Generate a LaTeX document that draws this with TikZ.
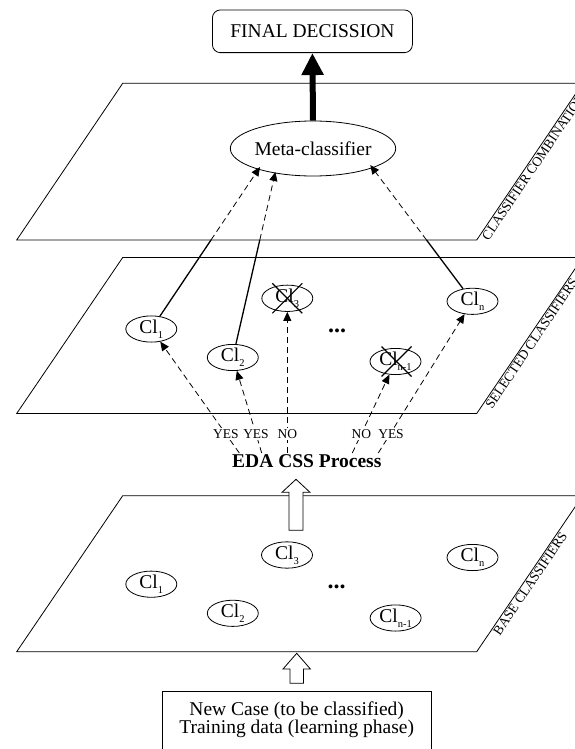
\documentclass[tikz,border=0pt]{standalone}
\usepackage{fontspec}
\setmainfont{Liberation Serif}
\usetikzlibrary{shapes.geometric,arrows.meta,calc}
\newcommand{\clsub}[1]{Cl\raisebox{-5pt}{\fontsize{10.5}{11}\selectfont #1}}
\begin{document}
\begin{tikzpicture}[x=1pt,y=-1pt,
  plane/.style={draw, line width=0.8pt},
  clnode/.style={draw, ellipse, fill=white, line width=0.8pt, minimum width=51pt, minimum height=26pt, inner sep=0pt, font=\fontsize{19.5}{22}\selectfont},
  dasharrow/.style={line width=0.8pt, dash pattern=on 6pt off 4pt, -{Triangle[length=9pt,width=8pt]}},
  solidline/.style={line width=1.3pt},
  crossline/.style={line width=1.2pt},
  yn/.style={fill=white, inner sep=1.5pt, font=\fontsize{13.5}{14}\selectfont},
  side/.style={rotate=56, anchor=north west, inner sep=1.5pt, font=\fontsize{13.5}{14}\selectfont},
  hollow/.style={draw, fill=white, line width=0.8pt},
  main/.style={font=\fontsize{19.5}{22}\selectfont},
  dotsnode/.style={font=\fontsize{24}{24}\selectfont\bfseries}
]
\useasboundingbox (0,0) rectangle (575,749);
\clip (0,0) rectangle (575,749);

% plane corners
\coordinate (bl1) at (16.7,240);   \coordinate (br1) at (476.7,240);
\coordinate (tl1) at (122.7,83.3); \coordinate (tr1) at (582.7,83.3);
\coordinate (bl2) at (16.7,413.5); \coordinate (br2) at (476.7,413.5);
\coordinate (tl2) at (122.7,257.5);\coordinate (tr2) at (582.7,257.5);
\coordinate (bl3) at (16.7,651.7); \coordinate (br3) at (476.7,651.7);
\coordinate (tl3) at (122.7,495.7);\coordinate (tr3) at (582.7,495.7);

\draw[plane] (bl1) -- (br1) -- (tr1) -- (tl1) -- cycle;
\draw[plane] (bl2) -- (br2) -- (tr2) -- (tl2) -- cycle;
\draw[plane] (bl3) -- (br3) -- (tr3) -- (tl3) -- cycle;

\node[side] (lab1) at ($(br1)!4pt!(tr1)$) {CLASSIFIER COMBINATION};
\node[side] (lab2) at ($(br2)!10pt!(tr2)$) {SELECTED CLASSIFIERS};
\node[side] (lab3) at ($(br3)!24pt!(tr3)$) {BASE CLASSIFIERS};

% top
\node[draw, rounded corners=8pt, minimum width=200pt, minimum height=42.7pt, line width=0.8pt, main] (final) at (312.4,31.3) {FINAL DECISSION};
\node[draw, ellipse, fill=white, minimum width=144pt, minimum height=55pt, inner sep=0pt, line width=0.8pt, main] (meta) at (313,148.5) {Meta-classifier};
\draw[line width=6pt, -{Triangle[length=22pt,width=21pt]}] (meta.north) -- (final.south);

% selected classifiers
\node[clnode] (sc1) at (151.3,329) {\clsub{1}};
\node[clnode] (sc2) at (232.8,357.5) {\clsub{2}};
\node[clnode] (sc3) at (287.3,298.3) {\clsub{3}};
\node[clnode] (sc4) at (395.5,361.5) {\clsub{n-1}};
\node[clnode] (sc5) at (472.5,301.3) {\clsub{n}};
\node[dotsnode] (sdots) at (337,331) {...};
\draw[crossline] ($(sc3)+(-15,-15)$) -- ($(sc3)+(15,15)$);
\draw[crossline] ($(sc3)+(15,-15)$) -- ($(sc3)+(-15,15)$);
\draw[crossline] ($(sc4)+(-14,-15)$) -- ($(sc4)+(16,15)$);
\draw[crossline] ($(sc4)+(16,-15)$) -- ($(sc4)+(-14,15)$);

% selected -> meta
\coordinate (e1) at (211,240);   \coordinate (m1) at (260,167);
\coordinate (e2) at (259.8,240); \coordinate (m2) at (275.4,172);
\coordinate (e5) at (426.5,240); \coordinate (m5) at (370.3,165.1);
\draw[solidline] (sc1) -- (e1);
\draw[solidline] (sc2) -- (e2);
\draw[solidline] (sc5) -- (e5);
\draw[dasharrow] (e1) -- (m1);
\draw[dasharrow] (e2) -- (m2);
\draw[dasharrow] (e5) -- (m5);

% EDA process
\node[font=\fontsize{19.5}{22}\selectfont\bfseries, anchor=base] (eda) at (306.8,467) {EDA CSS Process};
\coordinate (s1) at (239.3,453);
\coordinate (s2) at (261.7,453);
\coordinate (s3) at (287.3,453);
\coordinate (s4) at (352.3,453);
\coordinate (s5) at (378.3,453);
\draw[dasharrow] (s1) -- (sc1);
\draw[dasharrow] (s2) -- (sc2);
\draw[dasharrow] (s3) -- (sc3);
\draw[dasharrow] (s4) -- (sc4);
\draw[dasharrow] (s5) -- (sc5);
\node[yn] (yes1) at (225.8,434) {YES};
\node[yn] (yes2) at (256,434) {YES};
\node[yn] (no1) at (287.3,434) {NO};
\node[yn] (no2) at (361.3,434) {NO};
\node[yn] (yes3) at (391,434) {YES};

% base classifiers
\node[clnode] (bc1) at (151.3,584.2) {\clsub{1}};
\node[clnode] (bc2) at (232.8,613.3) {\clsub{2}};
\node[clnode] (bc3) at (287,555) {\clsub{3}};
\node[clnode] (bc4) at (395.6,618) {\clsub{n-1}};
\node[clnode] (bc5) at (472.5,557.5) {\clsub{n}};
\node[dotsnode] (bdots) at (336.5,587) {...};

% hollow arrows
\coordinate (h1) at (296,479.3);
\draw[hollow] (h1) -- ++(14,13) -- ++(-7,0) -- ++(0,38) -- ++(-14,0) -- ++(0,-38) -- ++(-7,0) -- cycle;
\coordinate (h2) at (296.7,653.3);
\draw[hollow] (h2) -- ++(13.7,15.7) -- ++(-7,0) -- ++(0,14.3) -- ++(-13.4,0) -- ++(0,-14.3) -- ++(-7,0) -- cycle;

% input box
\node[draw, line width=0.8pt, minimum width=268.5pt, minimum height=80pt, anchor=north] (newcase) at (296.7,690.7) {};
\node[align=center, anchor=north, inner sep=2pt, font=\fontsize{19.5}{18}\selectfont] (nctext) at (296.7,700) {New Case (to be classified)\\Training data (learning phase)};
\end{tikzpicture}
\end{document}
